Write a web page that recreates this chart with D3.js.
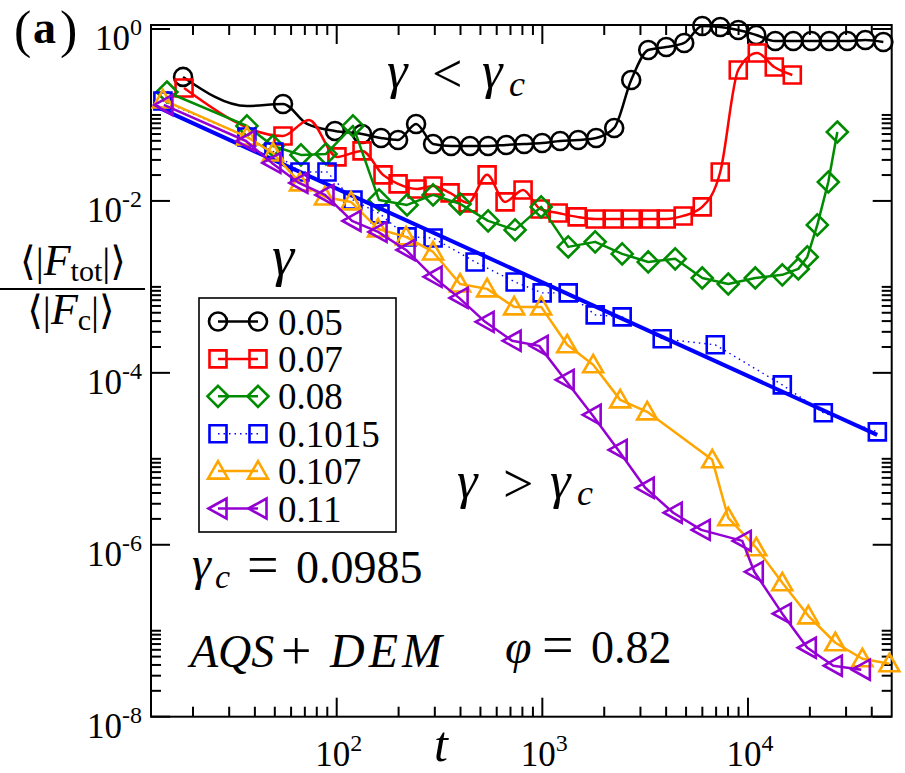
<!DOCTYPE html>
<html>
<head>
<meta charset="utf-8">
<script src="https://cdn.jsdelivr.net/npm/d3@7"></script>
<style>
  body { margin: 0; background: #fff; }
  svg { display: block; }
</style>
</head>
<body>
<div id="chart"></div>
<script>
// values: t and <|F_tot|>/<|F_c|> for each gamma
const gammaLabels = ["0.05", "0.07", "0.08", "0.1015", "0.107", "0.11"];

const t005 = [17.9, 36.6, 54.8, 71.7, 98.1, 132.8, 164.3, 198.8, 243.2, 294.2, 360, 445, 545, 667, 816, 998, 1221, 1494, 1827, 2236, 2705, 3273, 4004, 4898, 5994, 7332, 8971, 10974, 13577, 16612, 20324, 24870, 30420, 37220, 45540];
const f005 = [0.277, 0.127, 0.134, 0.0786, 0.0652, 0.0601, 0.054, 0.0512, 0.0786, 0.046, 0.0436, 0.0436, 0.0436, 0.0448, 0.046, 0.0472, 0.0498, 0.0512, 0.054, 0.0706, 0.255, 0.57, 0.617, 0.688, 1.083, 1.055, 0.974, 0.852, 0.725, 0.725, 0.725, 0.725, 0.725, 0.745, 0.706];
const skip005 = [1, 3]; // line vertices drawn without a symbol

const t007 = [18.1, 54.8, 73.3, 100.3, 132.8, 168, 198.8, 245.9, 294.2, 355.9, 435.5, 538.7, 659, 806, 976, 1194, 1477, 1807, 2211, 2705, 3347, 4004, 4843, 5994, 7332, 8971, 11098, 13428, 16428];
const f007 = [0.206, 0.057, 0.0875, 0.0325, 0.0382, 0.0201, 0.0158, 0.01379, 0.01494, 0.01239, 0.00948, 0.0201, 0.00974, 0.01342, 0.00807, 0.00725, 0.00652, 0.00617, 0.00617, 0.00617, 0.00617, 0.00617, 0.00669, 0.00852, 0.0217, 0.334, 0.526, 0.361, 0.292];
const skip007 = [2];

const t008 = [14.94, 36.6, 49.0, 67.0, 88.7, 120.0, 160.6, 219.9, 294.2, 398, 545, 737, 987, 1336, 1807, 2445, 3273, 4427, 5994, 8019, 10852, 14689, 17571, 19432, 21740, 24590, 27200];
const f008 = [0.185, 0.0745, 0.0436, 0.0343, 0.0352, 0.0745, 0.01027, 0.00899, 0.01175, 0.00923, 0.00585, 0.0046, 0.00852, 0.00292, 0.00334, 0.00242, 0.00195, 0.00212, 0.00127, 0.00108, 0.00127, 0.00138, 0.00162, 0.00223, 0.00526, 0.0166, 0.0634];

const t1015 = [14.28, 36.6, 49.5, 66.3, 89.7, 120.0, 162.4, 219.9, 294.2, 471, 737.5, 998, 1336, 1807, 2445, 3828, 6933, 14689, 23250, 42580];
const f1015 = [0.1455, 0.0555, 0.0371, 0.0217, 0.0217, 0.01027, 0.00706, 0.00382, 0.00371, 0.00195, 0.00114, 0.000852, 0.000852, 0.000472, 0.000448, 0.000249, 0.000212, 7.25e-5, 3.43e-5, 2.06e-5];

const t107 = [14.28, 36.6, 49.0, 66.3, 87.7, 117.4, 158.9, 217.4, 294.2, 398, 538.7, 729, 987, 1321, 1767, 2391, 3236, 6704, 8019, 10974, 14689, 19650, 26600, 35990, 48700];
const f107 = [0.1494, 0.0555, 0.0361, 0.0162, 0.01113, 0.00974, 0.00472, 0.00382, 0.00255, 0.00108, 0.000948, 0.000585, 0.000585, 0.000212, 0.000124, 4.85e-5, 3.52e-5, 9.74e-6, 2.06e-6, 9.23e-7, 3.61e-7, 1.49e-7, 7.25e-8, 4.72e-8, 4.13e-8];

const t11 = [14.44, 36.2, 48.4, 65.5, 87.7, 118.7, 158.9, 217.4, 294.2, 393.7, 526.8, 713, 965, 1291, 1747, 2338, 3164, 4329, 5927, 9382, 10733, 14689, 19432, 26010, 35590];
const f11 = [0.1307, 0.0498, 0.0277, 0.0162, 0.01175, 0.00585, 0.00436, 0.00269, 0.00131, 0.000745, 0.000392, 0.000236, 0.000206, 8.29e-5, 3.25e-5, 1.27e-5, 4.6e-6, 2.36e-6, 1.49e-6, 1.11e-6, 4.85e-7, 1.58e-7, 6.34e-8, 3.92e-8, 3.52e-8];

// power-law fit through the 0.1015 data (end points)
const fitT = [13.3, 42500];
const fitF = [0.125, 1.9e-5];

// tick labels
const xTickExp = ["2", "3", "4"];
const yTickExp = ["0", "-2", "-4", "-6", "-8"];

// ---------------------------------------------------------------
const W = 905, H = 773;
const plot = { left: 151, right: 891.7, top: 25, bottom: 716.7 };
const serif = "'Liberation Serif', 'Times New Roman', Times, 'DejaVu Serif', serif";

const svg = d3.select("#chart").append("svg")
  .attr("width", W).attr("height", H)
  .attr("font-family", serif)
  .style("font-family", serif);

const x = d3.scaleLog().domain([12.5, 5e4]).range([plot.left, plot.right]);
const y = d3.scaleLog().domain([1e-8, 1.113]).range([plot.bottom, plot.top]);

// ticks: majors every two decades on y, every decade on x
const xMajor = xTickExp.map(e => Math.pow(10, +e));
const yMajor = yTickExp.map(e => Math.pow(10, +e));
const xMinor = [];
[1, 2, 3, 4].forEach(e => { for (let k = 2; k <= 9; k++) { const v = k * Math.pow(10, e); if (v < 5e4) xMinor.push(v); } });
const yMinor = [];
[-8, -6, -4, -2].forEach(e => { for (let k = 2; k <= 10; k++) yMinor.push(k * Math.pow(10, e)); });

const ticks = svg.append("g").attr("stroke", "#000").attr("stroke-width", 2);
function xTicks(vals, len) {
  vals.forEach(v => {
    const px = x(v);
    ticks.append("line").attr("x1", px).attr("x2", px).attr("y1", plot.bottom).attr("y2", plot.bottom - len);
    ticks.append("line").attr("x1", px).attr("x2", px).attr("y1", plot.top).attr("y2", plot.top + len);
  });
}
function yTicks(vals, len) {
  vals.forEach(v => {
    const py = y(v);
    ticks.append("line").attr("y1", py).attr("y2", py).attr("x1", plot.left).attr("x2", plot.left + len);
    ticks.append("line").attr("y1", py).attr("y2", py).attr("x1", plot.right).attr("x2", plot.right - len);
  });
}
xTicks(xMajor, 19); xTicks(xMinor, 10);
yTicks(yMajor, 19); yTicks(yMinor, 10);

// tick labels
yTickExp.forEach((e, i) => {
  const t = svg.append("text").attr("x", 142).attr("y", y(yMajor[i]) + 21)
    .attr("text-anchor", "end").style("font-size", "35px");
  t.append("tspan").text("10");
  t.append("tspan").attr("dy", -15).style("font-size", "24px").text(e);
});
xTickExp.forEach((e, i) => {
  const t = svg.append("text").attr("x", x(xMajor[i]) + 2).attr("y", 766)
    .attr("text-anchor", "middle").style("font-size", "35px");
  t.append("tspan").text("10");
  t.append("tspan").attr("dy", -15).style("font-size", "24px").text(e);
});

// frame
svg.append("rect")
  .attr("x", plot.left).attr("y", plot.top)
  .attr("width", plot.right - plot.left).attr("height", plot.bottom - plot.top)
  .attr("fill", "none").attr("stroke", "#000").attr("stroke-width", 2);

// symbols
function symPath(kind) {
  switch (kind) {
    case "circle": return "M9,0A9,9 0 1,1 -9,0A9,9 0 1,1 9,0Z";
    case "square": return "M-8.5,-8.5H8.5V8.5H-8.5Z";
    case "diamond": return "M0,-10.5L10.5,0L0,10.5L-10.5,0Z";
    case "up": return "M0,-10L10,7.5L-10,7.5Z";
    case "left": return "M-9.5,0L8.5,-10L8.5,10Z";
  }
}

const series = [
  { t: t005, f: f005, skip: skip005, color: "#000000", sym: "circle", curve: d3.curveMonotoneX, width: 2.5 },
  { t: t007, f: f007, skip: skip007, color: "#ff0000", sym: "square", curve: d3.curveMonotoneX, width: 2.5 },
  { t: t008, f: f008, skip: [], color: "#008b00", sym: "diamond", curve: d3.curveLinear, width: 2.5 },
  { t: t1015, f: f1015, skip: [], color: "#0000ff", sym: "square", curve: d3.curveLinear, width: 1.4, dash: "1.5,4" },
  { t: t107, f: f107, skip: [], color: "#ffa500", sym: "up", curve: d3.curveLinear, width: 2.5 },
  { t: t11, f: f11, skip: [], color: "#9400d3", sym: "left", curve: d3.curveLinear, width: 2.5 }
];

const marks = svg.append("g");
series.forEach((s, si) => {
  const pts = s.t.map((t, i) => [t, s.f[i], i]);
  const line = d3.line().x(d => x(d[0])).y(d => y(d[1])).curve(s.curve);
  marks.append("path").datum(pts)
    .attr("d", line)
    .attr("fill", "none").attr("stroke", s.color)
    .attr("stroke-width", s.width)
    .attr("stroke-dasharray", s.dash || null)
    .attr("stroke-linejoin", "round");
  marks.selectAll(null).data(pts.filter(d => !s.skip.includes(d[2])))
    .enter().append("path")
    .attr("transform", d => `translate(${x(d[0])},${y(d[1])})`)
    .attr("d", symPath(s.sym))
    .attr("fill", "none").attr("stroke", s.color).attr("stroke-width", 2.6);
  if (si === 3) {
    const fit = fitT.map((t, i) => [t, fitF[i]]);
    marks.append("path").datum(fit)
      .attr("d", d3.line().x(d => x(d[0])).y(d => y(d[1])))
      .attr("stroke", "#0000ff").attr("stroke-width", 4).attr("fill", "none");
  }
});

// legend
const leg = svg.append("g");
leg.append("rect").attr("x", 199).attr("y", 298).attr("width", 197).attr("height", 234)
  .attr("fill", "#fff").attr("stroke", "#000").attr("stroke-width", 1.6);
series.forEach((s, i) => {
  const cy = 321.5 + i * 37.4;
  leg.append("line").attr("x1", 218).attr("x2", 258).attr("y1", cy).attr("y2", cy)
    .attr("stroke", s.color).attr("stroke-width", s.width)
    .attr("stroke-dasharray", s.dash || null);
  [218, 258].forEach(cx => {
    leg.append("path").attr("transform", `translate(${cx},${cy})`)
      .attr("d", symPath(s.sym)).attr("fill", "none")
      .attr("stroke", s.color).attr("stroke-width", 2.6);
  });
  leg.append("text").attr("x", 278).attr("y", cy + 13)
    .style("font-size", "37px").text(gammaLabels[i]);
});

// annotations: each piece placed where it sits in the figure
function place(parts) {
  parts.forEach(p => {
    svg.append("text").attr("x", p.x).attr("y", p.y)
      .style("font-size", p.size + "px")
      .style("font-style", p.it ? "italic" : "normal")
      .style("font-weight", p.bold ? "bold" : "normal")
      .style("letter-spacing", p.ls ? p.ls + "px" : null)
      .text(p.s);
  });
}

// panel tag
place([
  { s: "(", x: 14, y: 47, size: 52 },
  { s: "a", x: 33, y: 43, size: 46, bold: true },
  { s: ")", x: 60, y: 47, size: 52 }
]);

// gamma < gamma_c
place([
  { s: "γ", x: 387, y: 88, size: 52, it: true },
  { s: "<", x: 432, y: 92, size: 54 },
  { s: "γ", x: 482, y: 88, size: 52, it: true },
  { s: "c", x: 509, y: 96, size: 36, it: true }
]);
// gamma > gamma_c
place([
  { s: "γ", x: 457, y: 498, size: 52, it: true },
  { s: ">", x: 503, y: 502, size: 54 },
  { s: "γ", x: 550, y: 498, size: 52, it: true },
  { s: "c", x: 577, y: 505, size: 36, it: true }
]);
// legend title
place([{ s: "γ", x: 272, y: 275, size: 56, it: true }]);
// gamma_c = 0.0985
place([
  { s: "γ", x: 192, y: 580, size: 48, it: true },
  { s: "c", x: 215, y: 588, size: 34, it: true },
  { s: "=", x: 247, y: 584, size: 56 },
  { s: "0.0985", x: 296, y: 583, size: 46 }
]);
// AQS + DEM, phi = 0.82
place([
  { s: "AQS", x: 190, y: 667, size: 46, it: true },
  { s: "+", x: 281, y: 669, size: 54 },
  { s: "DEM", x: 330, y: 667, size: 48, it: true, ls: 4 },
  { s: "φ", x: 505, y: 663, size: 48, it: true },
  { s: "=", x: 542, y: 664, size: 56 },
  { s: "0.82", x: 591, y: 663, size: 46 }
]);

// y-axis title as a fraction
function flow(xPos, yPos, anchor, parts) {
  const t = svg.append("text").attr("x", xPos).attr("y", yPos).attr("text-anchor", anchor);
  parts.forEach(p => {
    t.append("tspan").attr("dy", p.dy || 0)
      .style("font-size", p.size + "px")
      .style("font-style", p.it ? "italic" : "normal")
      .text(p.s);
  });
}
flow(73, 275, "middle", [
  { s: "⟨|", size: 40 }, { s: "F", size: 44, it: true },
  { s: "tot", size: 30, dy: 6 }, { s: "|⟩", size: 40, dy: -6 }
]);
flow(71, 324, "middle", [
  { s: "⟨|", size: 40 }, { s: "F", size: 44, it: true },
  { s: "c", size: 30, dy: 6 }, { s: "|⟩", size: 40, dy: -6 }
]);
svg.append("line").attr("x1", 0).attr("x2", 145).attr("y1", 289).attr("y2", 289)
  .attr("stroke", "#000").attr("stroke-width", 2);

// x-axis title
place([{ s: "t", x: 434, y: 761, size: 50, it: true }]);
</script>
</body>
</html>
